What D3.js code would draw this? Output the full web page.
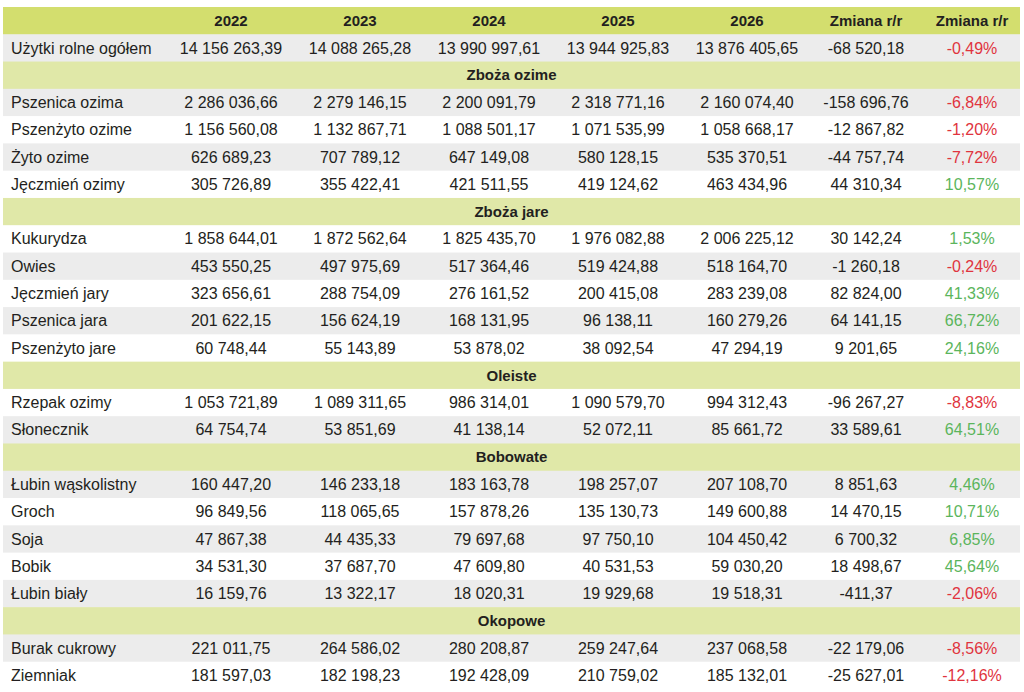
<!DOCTYPE html>
<html lang="pl">
<head>
<meta charset="UTF-8">
<title>Powierzchnia upraw</title>
<script src="https://d3js.org/d3.v7.min.js"></script>
<style>
    body { margin: 0; background: #fff; }
    svg { display: block; font-family: "Liberation Sans", Arial, sans-serif; }
    .cell { font-size: 16px; fill: #231f20; }
    .head { font-weight: bold; font-size: 15px; }
</style>
</head>
<body>
<svg id="table" width="1024" height="692"></svg>
<script>
// column headers
const columns = ["2022", "2023", "2024", "2025", "2026", "Zmiana r/r", "Zmiana r/r"];

// crop rows
const crops = ["Użytki rolne ogółem", "Pszenica ozima", "Pszenżyto ozime", "Żyto ozime", "Jęczmień ozimy",
    "Kukurydza", "Owies", "Jęczmień jary", "Pszenica jara", "Pszenżyto jare",
    "Rzepak ozimy", "Słonecznik",
    "Łubin wąskolistny", "Groch", "Soja", "Bobik", "Łubin biały",
    "Burak cukrowy", "Ziemniak"];

// section headings and the crop index they come before
const sections = ["Zboża ozime", "Zboża jare", "Oleiste", "Bobowate", "Okopowe"];
const sectionStarts = [1, 5, 10, 12, 17];

const v2022 = [14156263.39, 2286036.66, 1156560.08, 626689.23, 305726.89,
    1858644.01, 453550.25, 323656.61, 201622.15, 60748.44,
    1053721.89, 64754.74,
    160447.20, 96849.56, 47867.38, 34531.30, 16159.76,
    221011.75, 181597.03];
const v2023 = [14088265.28, 2279146.15, 1132867.71, 707789.12, 355422.41,
    1872562.64, 497975.69, 288754.09, 156624.19, 55143.89,
    1089311.65, 53851.69,
    146233.18, 118065.65, 44435.33, 37687.70, 13322.17,
    264586.02, 182198.23];
const v2024 = [13990997.61, 2200091.79, 1088501.17, 647149.08, 421511.55,
    1825435.70, 517364.46, 276161.52, 168131.95, 53878.02,
    986314.01, 41138.14,
    183163.78, 157878.26, 79697.68, 47609.80, 18020.31,
    280208.87, 192428.09];
const v2025 = [13944925.83, 2318771.16, 1071535.99, 580128.15, 419124.62,
    1976082.88, 519424.88, 200415.08, 96138.11, 38092.54,
    1090579.70, 52072.11,
    198257.07, 135130.73, 97750.10, 40531.53, 19929.68,
    259247.64, 210759.02];
const v2026 = [13876405.65, 2160074.40, 1058668.17, 535370.51, 463434.96,
    2006225.12, 518164.70, 283239.08, 160279.26, 47294.19,
    994312.43, 85661.72,
    207108.70, 149600.88, 104450.42, 59030.20, 19518.31,
    237068.58, 185132.01];
const changeAbs = [-68520.18, -158696.76, -12867.82, -44757.74, 44310.34,
    30142.24, -1260.18, 82824.00, 64141.15, 9201.65,
    -96267.27, 33589.61,
    8851.63, 14470.15, 6700.32, 18498.67, -411.37,
    -22179.06, -25627.01];
const changePct = [-0.49, -6.84, -1.20, -7.72, 10.57,
    1.53, -0.24, 41.33, 66.72, 24.16,
    -8.83, 64.51,
    4.46, 10.71, 6.85, 45.64, -2.06,
    -8.56, -12.16];

// build row list: header, then crops with section rows inserted
const rows = [{type: "header"}];
crops.forEach((name, i) => {
    const s = sectionStarts.indexOf(i);
    if (s >= 0) rows.push({type: "section", label: sections[s]});
    rows.push({type: "data", label: name,
        values: [v2022[i], v2023[i], v2024[i], v2025[i], v2026[i], changeAbs[i], changePct[i]]});
});

const pl = d3.formatLocale({decimal: ",", thousands: "\u00a0", grouping: [3], currency: ["", " zł"], minus: "-"});
const fmt = pl.format(",.2f");

const svg = d3.select("#table");
const tLeft = 3, tRight = 1020, tTop = 7, tBottom = 689;

const y = d3.scaleBand()
    .domain(d3.range(rows.length))
    .range([tTop, tBottom]);

// centre of each value column
const x = d3.scaleOrdinal()
    .domain(d3.range(columns.length))
    .range([231, 360, 489, 618, 747, 866, 972]);

const colors = {
    header: "#d3de6e",
    section: "#e0e8a8",
    gray: "#ececec",
    white: "#ffffff",
    red: "#e0343e",
    green: "#5bb55c"
};

const g = svg.selectAll("g.row")
    .data(rows)
    .join("g")
    .attr("class", "row")
    .attr("transform", (d, i) => `translate(0,${y(i)})`);

g.append("rect")
    .attr("x", tLeft)
    .attr("width", tRight - tLeft)
    .attr("height", y.bandwidth() + 0.5)
    .attr("fill", (d, i) => d.type === "header" ? colors.header
        : d.type === "section" ? colors.section
        : ((i - 1) % 2 === 0 ? colors.gray : colors.white));

const mid = y.bandwidth() / 2;

// header
g.filter(d => d.type === "header")
    .selectAll("text")
    .data(columns)
    .join("text")
    .attr("class", "cell head")
    .attr("x", (d, i) => x(i))
    .attr("y", mid)
    .attr("dy", "0.35em")
    .attr("text-anchor", "middle")
    .text(d => d);

// section titles
g.filter(d => d.type === "section")
    .append("text")
    .attr("class", "cell head")
    .attr("x", (tLeft + tRight) / 2)
    .attr("y", mid)
    .attr("dy", "0.35em")
    .attr("text-anchor", "middle")
    .text(d => d.label);

// data rows
const dataRows = g.filter(d => d.type === "data");
dataRows.append("text")
    .attr("class", "cell")
    .attr("x", 11)
    .attr("y", mid)
    .attr("dy", "0.35em")
    .text(d => d.label);

dataRows.selectAll("text.val")
    .data(d => d.values)
    .join("text")
    .attr("class", "cell val")
    .attr("x", (d, i) => x(i))
    .attr("y", mid)
    .attr("dy", "0.35em")
    .attr("text-anchor", "middle")
    .style("fill", (d, i) => i === 6 ? (d < 0 ? colors.red : colors.green) : null)
    .text((d, i) => i === 6 ? fmt(d) + "%" : fmt(d));
</script>
</body>
</html>
